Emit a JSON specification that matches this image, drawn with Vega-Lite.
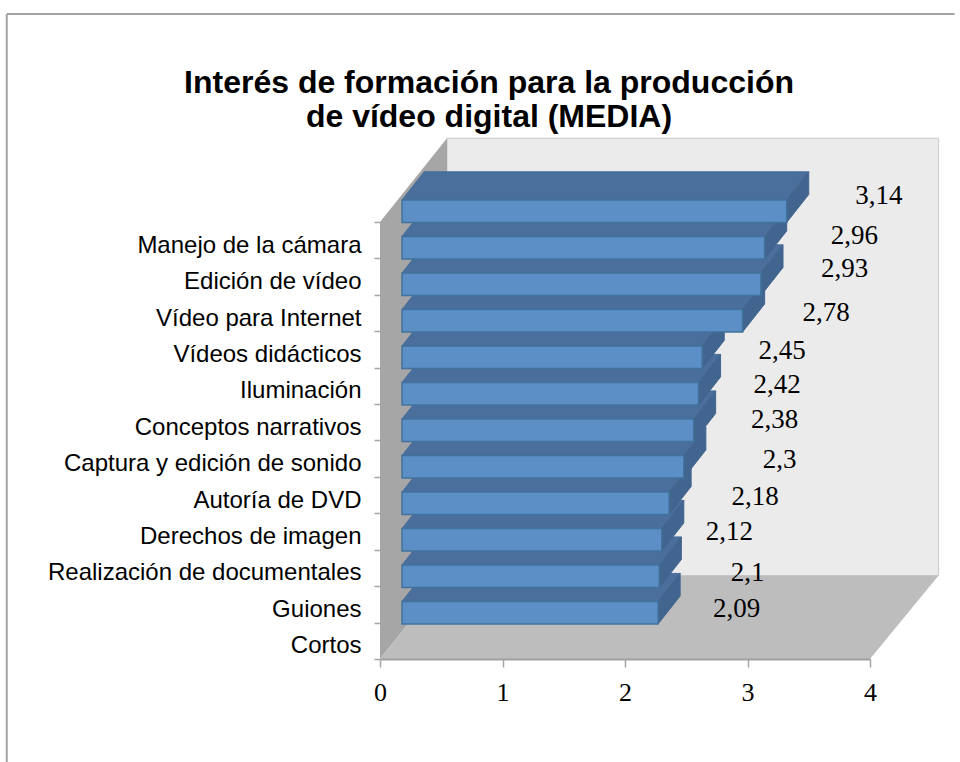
{
"$schema":"https://vega.github.io/schema/vega-lite/v6.json",
"width":490,"height":437,
"autosize":{"type":"none"},
"padding":{"left":380,"top":222,"right":90,"bottom":103},
"background":"white",
"title":{"text":["Interés de formación para la producción","de vídeo digital (MEDIA)"],"font":"Liberation Sans","fontWeight":"bold","fontSize":32,"lineHeight":34,"color":"black","anchor":"middle","frame":"group","dx":-136,"offset":-121},
"datasets":{"filas":[
{"tema":"Cortos","media":2.09},
{"tema":"Guiones","media":2.1},
{"tema":"Realización de documentales","media":2.12},
{"tema":"Derechos de imagen","media":2.18},
{"tema":"Autoría de DVD","media":2.3},
{"tema":"Captura y edición de sonido","media":2.38},
{"tema":"Conceptos narrativos","media":2.42},
{"tema":"Iluminación","media":2.45},
{"tema":"Vídeos didácticos","media":2.78},
{"tema":"Vídeo para Internet","media":2.93},
{"tema":"Edición de vídeo","media":2.96},
{"tema":"Manejo de la cámara","media":3.14}
]},
"layer":[
{"layer":[
{"data":{"values":[{"a":0}]},"transform":[{"calculate":"-3.047","as":"x0"},{"calculate":"4.69","as":"x1"},{"calculate":"17.71","as":"y0"}],"mark":{"type":"rule","color":"#a3a3a3","strokeWidth":2},"encoding":{"x":{"field":"x0","type":"quantitative","scale":{"domain":[0,4],"nice":false,"zero":false},"axis":{"values":[0,1,2,3,4],"title":null,"grid":false,"zindex":1,"domainColor":"#a0a0a0","domainWidth":2,"tickColor":"#a6a6a6","tickWidth":1.5,"tickSize":8,"labelFont":"Liberation Serif","labelFontSize":26,"labelColor":"black","labelPadding":12,"labelFlush":false,"labelOverlap":false,"format":"d"}},"x2":{"field":"x1"},"y":{"field":"y0","type":"quantitative","scale":{"domain":[0,12],"nice":false,"zero":false},"axis":null}}},
{"data":{"values":[{"a":0}]},"transform":[{"calculate":"-3.047","as":"x0"},{"calculate":"17.71","as":"y0"},{"calculate":"-2.83","as":"y1"}],"mark":{"type":"rule","color":"#a3a3a3","strokeWidth":2},"encoding":{"x":{"field":"x0","type":"quantitative"},"y":{"field":"y0","type":"quantitative"},"y2":{"field":"y1"}}},
{"data":{"values":[{"a":0}]},"transform":[{"calculate":"0.547","as":"x0"},{"calculate":"4.56","as":"x1"},{"calculate":"2.29","as":"y0"},{"calculate":"14.3","as":"y1"}],"mark":{"type":"rect","fill":"#ebebeb","stroke":"#cacaca","strokeWidth":1},"encoding":{"x":{"field":"x0","type":"quantitative"},"x2":{"field":"x1"},"y":{"field":"y0","type":"quantitative"},"y2":{"field":"y1"}}},
{"data":{"values":[{"p":0},{"p":1}]},"transform":[{"calculate":"datum.p*0.547","as":"xw"},{"calculate":"datum.p*2.29","as":"ya"},{"calculate":"12+datum.p*2.3","as":"yb"}],"mark":{"type":"area","orient":"vertical","fill":"#a6a6a6","opacity":1},"encoding":{"x":{"field":"xw","type":"quantitative"},"y":{"field":"ya","type":"quantitative"},"y2":{"field":"yb"}}},
{"data":{"values":[{"p":0},{"p":1}]},"transform":[{"calculate":"datum.p*0.547","as":"xa"},{"calculate":"4+datum.p*0.56","as":"xb"},{"calculate":"datum.p*2.29","as":"yf"}],"mark":{"type":"area","orient":"horizontal","fill":"#bdbdbd","opacity":1},"encoding":{"y":{"field":"yf","type":"quantitative"},"x":{"field":"xa","type":"quantitative"},"x2":{"field":"xb"}}},
{"data":{"name":"filas"},"transform":[{"window":[{"op":"row_number","as":"n"}]},{"calculate":"datum.n-1","as":"j"},{"calculate":"[0,1]","as":"p"},{"flatten":["p"]},{"calculate":"0.96+datum.j*1.0025+0.62+datum.p*0.77","as":"yt"},{"calculate":"0.18+datum.p*0.18","as":"xa"},{"calculate":"0.18+datum.media+datum.p*0.18","as":"xb"}],"mark":{"type":"area","orient":"horizontal","fill":"#4a6f9c","stroke":"#466c97","strokeWidth":1,"opacity":1},"encoding":{"detail":{"field":"j","type":"ordinal"},"y":{"field":"yt","type":"quantitative"},"x":{"field":"xa","type":"quantitative"},"x2":{"field":"xb"}}},
{"data":{"name":"filas"},"transform":[{"window":[{"op":"row_number","as":"n"}]},{"calculate":"datum.n-1","as":"j"},{"calculate":"[0,1]","as":"p"},{"flatten":["p"]},{"calculate":"0.18+datum.media+datum.p*0.18","as":"xs"},{"calculate":"0.96+datum.j*1.0025+datum.p*0.77","as":"ya"},{"calculate":"0.96+datum.j*1.0025+0.62+datum.p*0.77","as":"yb"}],"mark":{"type":"area","orient":"vertical","fill":"#41658f","stroke":"#41658f","strokeWidth":1,"opacity":1},"encoding":{"detail":{"field":"j","type":"ordinal"},"x":{"field":"xs","type":"quantitative"},"y":{"field":"ya","type":"quantitative"},"y2":{"field":"yb"}}},
{"data":{"name":"filas"},"transform":[{"window":[{"op":"row_number","as":"n"}]},{"calculate":"datum.n-1","as":"j"},{"calculate":"0.18","as":"xa"},{"calculate":"0.18+datum.media","as":"xb"},{"calculate":"0.96+datum.j*1.0025","as":"ya"},{"calculate":"0.96+datum.j*1.0025+0.62","as":"yb"}],"mark":{"type":"rect","fill":"#5b8fc6","stroke":"#41719c","strokeWidth":1.5},"encoding":{"x":{"field":"xa","type":"quantitative"},"x2":{"field":"xb"},"y":{"field":"ya","type":"quantitative"},"y2":{"field":"yb"}}},
{"data":{"name":"filas"},"transform":[{"window":[{"op":"row_number","as":"n"}]},{"calculate":"datum.n-1","as":"j"},{"calculate":"replace(toString(datum.media),'.',',')","as":"etiqueta"},{"calculate":"0.192+datum.media+[0.63,0.71,0.54,0.69,0.77,0.65,0.63,0.64,0.67,0.67,0.72,0.74][datum.j]","as":"xl"},{"calculate":"0.96+datum.j*1.0025+0.31+[0.11,0.08,0.22,0.16,0.19,0.27,0.25,0.16,0.22,0.41,0.33,0.41][datum.j]","as":"yl"}],"mark":{"type":"text","font":"Liberation Serif","fontSize":27,"color":"black","align":"center","baseline":"middle"},"encoding":{"x":{"field":"xl","type":"quantitative"},"y":{"field":"yl","type":"quantitative"},"text":{"field":"etiqueta","type":"nominal"}}}
]},
{"data":{"name":"filas"},"mark":{"type":"rule","opacity":0},"encoding":{"y":{"field":"tema","type":"nominal","sort":{"field":"media","op":"min","order":"descending"},"scale":{"paddingInner":0,"paddingOuter":0},"axis":{"title":null,"orient":"left","tickBand":"extent","domain":false,"grid":false,"zindex":1,"tickColor":"#a6a6a6","tickWidth":1.5,"tickSize":6,"labelFont":"Liberation Sans","labelFontSize":24,"labelColor":"black","labelPadding":13,"labelOffset":5,"labelLimit":400}}}}
],
"resolve":{"scale":{"y":"independent"}},
"config":{"view":{"stroke":null}}
}
